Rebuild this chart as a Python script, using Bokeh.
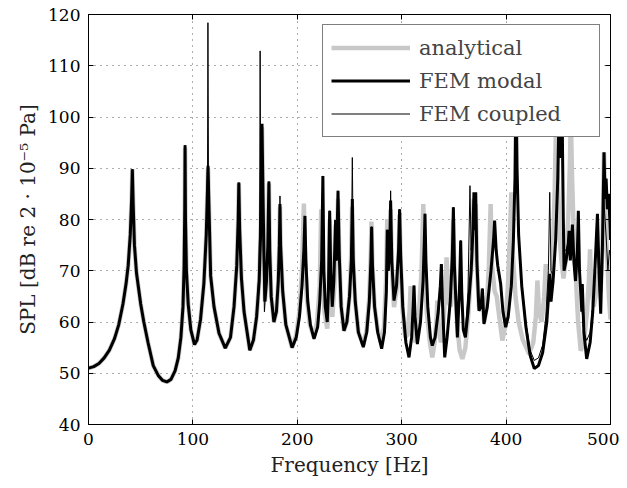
from bokeh.plotting import figure
from bokeh.models import Range1d, FixedTicker, LinearAxis, CustomJSTickFormatter, Legend, LegendItem
from bokeh.embed import file_html
from bokeh.resources import INLINE

# ---- data (frequency [Hz], SPL [dB]) ----
modal_pts = [
    (0, 51.0), (5, 51.3), (10, 51.9), (15, 53.0), (20, 54.5), (25, 56.8), (29, 59.5), (33, 63.5),
    (36, 67.5), (38, 71.0), (40, 77.0), (41.3, 84.0), (42, 89.8), (42.8, 83.0), (44, 75.0),
    (46, 69.5), (50, 63.5), (53, 60.0), (57, 56.0), (62, 51.5), (67, 49.5), (71, 48.6), (75, 48.3),
    (79, 48.8), (83, 50.5), (86, 53.0), (88.5, 57.0), (90.5, 63.0), (91.6, 71.0), (92.2, 82.0),
    (92.5, 94.5), (92.9, 80.0), (93.8, 70.0), (95.5, 63.5), (98, 58.5), (101.5, 55.6), (104, 56.5),
    (107.3, 60.5), (110.5, 67.5), (112.8, 77.0), (114.0, 86.0), (114.5, 90.5), (115.2, 84.0),
    (117, 69.0), (120.2, 63.0), (125, 57.8), (131, 54.9), (136, 57.0), (139.4, 63.0), (142, 71.0),
    (143.4, 80.0), (144, 87.2), (144.8, 78.0), (146.5, 68.5), (149, 62.0), (154.5, 54.5),
    (158, 56.5), (161, 61.0), (163.5, 68.0), (165.0, 78.0), (165.8, 92.0), (166.2, 98.7),
    (166.9, 88.0), (168.0, 74.0), (169.0, 64.0), (170.5, 68.0), (171.8, 75.0), (172.8, 87.4),
    (173.6, 74.0), (175.0, 65.0), (177.6, 60.0), (180.0, 62.0), (181.8, 68.0), (182.8, 75.0),
    (183.4, 83.0), (184.0, 75.0), (186.0, 66.0), (189.0, 59.5), (195.0, 55.0), (199, 57.0),
    (202, 61.0), (204.5, 67.0), (206.3, 74.0), (207.3, 80.7), (208.2, 72.0), (210, 64.0),
    (212.5, 59.5), (216, 56.7), (219.5, 59.0), (221.5, 64.0), (223.3, 72.0), (224.5, 88.5),
    (225.5, 70.0), (226.8, 63.0), (228.7, 60.0), (229.8, 66.0), (231, 81.7), (232, 70.0),
    (233.5, 63.0), (235, 68.0), (236.7, 79.9), (237.6, 72.0), (239, 85.6), (240.2, 73.0),
    (242, 63.0), (244.7, 58.3), (247.5, 60.0), (250, 65.0), (251.8, 72.0), (252.7, 84.0),
    (253.6, 72.0), (255.5, 64.0), (258.5, 58.0), (263.2, 55.1), (266.5, 58.0), (269, 64.0),
    (270.5, 72.0), (271.2, 78.6), (272, 71.0), (274, 63.0), (277, 58.0), (280.8, 54.8),
    (283.5, 58.0), (285.3, 66.0), (286.2, 78.0), (287.2, 70.0), (288.5, 74.0), (289.4, 83.7),
    (290.5, 72.0), (292.6, 64.2), (295, 67.0), (297, 74.0), (298, 82.0), (299, 73.0), (301, 63.0),
    (304, 56.0), (307, 53.1), (309.5, 57.0), (311.0, 63.0), (311.8, 67.1), (312.8, 61.0),
    (315, 55.7), (318, 60.0), (320.5, 68.0), (321.7, 76.0), (322.3, 81.1), (323.2, 72.0),
    (325, 63.0), (327.5, 57.0), (329.3, 55.4), (332, 57.0), (335, 62.0), (337, 67.0), (338, 71.3),
    (339, 64.0), (341.2, 53.1), (343.5, 57.0), (346.5, 64.0), (348.5, 73.0), (349.5, 82.4),
    (350.5, 71.0), (353.3, 57.0), (355.3, 66.0), (356.5, 75.9), (357.5, 66.0), (359, 58.5),
    (361, 57.0), (363.5, 62.0), (366.5, 70.0), (368.3, 78.0), (369.2, 85.3), (370.2, 78.0),
    (370.9, 85.3), (372, 72.0), (374, 62.2), (376, 63.0), (377.3, 66.5), (378.8, 59.6),
    (382, 63.0), (385.5, 70.0), (388, 76.0), (389, 79.8), (390.5, 74.0), (392, 71.0),
    (394.8, 67.4), (397, 62.0), (399.6, 59.0), (402, 61.0), (405, 67.0), (407, 76.0),
    (408.5, 88.0), (409.5, 108.0), (410.5, 90.0), (412, 77.0), (415, 67.0), (419, 59.0),
    (423, 53.5), (427, 50.9), (431, 51.5), (435, 54.0), (439, 60.0), (441, 66.0), (441.8, 69.4),
    (443, 64.0), (445, 68.0), (447.5, 76.0), (449.5, 88.0), (451, 104.0), (452.5, 92.0),
    (453.5, 104.0), (454.8, 80.0), (455.5, 70.0), (457.5, 72.0), (459.5, 75.0), (460.3, 77.8),
    (461.5, 72.0), (463.5, 79.0), (465, 71.6), (466.5, 68.0), (468.3, 74.0), (469.2, 81.7),
    (470.3, 70.0), (472.5, 62.0), (473, 67.4), (474.5, 58.0), (477.2, 52.8), (480.5, 56.0),
    (483, 62.0), (485, 70.0), (487.5, 81.1), (489, 70.0), (490.6, 61.6), (492.3, 75.0),
    (493.8, 93.1), (494.8, 84.0), (495.8, 88.0), (497, 82.0), (498.3, 85.0), (499.3, 80.0),
    (500, 76.0),
]

coupled_pts = [
    (0, 51.0), (5, 51.3), (10, 51.9), (15, 53.0), (20, 54.5), (25, 56.8), (29, 59.5), (33, 63.5),
    (36, 67.5), (38, 71.0), (40, 77.0), (41.3, 84.0), (42, 89.8), (42.8, 83.0), (44, 75.0),
    (46, 69.5), (50, 63.5), (53, 60.0), (57, 56.0), (62, 51.5), (67, 49.5), (71, 48.6), (75, 48.3),
    (79, 48.8), (83, 50.5), (86, 53.0), (88.5, 57.0), (90.5, 63.0), (91.6, 71.0), (92.2, 82.0),
    (92.5, 94.5), (92.9, 80.0), (93.8, 70.0), (95.5, 63.5), (98, 58.5), (101.5, 55.6), (104, 56.5),
    (107.3, 60.5), (110.5, 67.5), (112.8, 77.0), (114.0, 90.0), (114.4, 118.4), (114.9, 90.0),
    (115.5, 80.0), (117, 69.0), (120.2, 63.0), (125, 57.8), (131, 54.9), (136, 57.0), (139.4, 63.0),
    (142, 71.0), (143.4, 80.0), (144, 87.2), (144.8, 78.0), (146.5, 68.5), (149, 62.0),
    (154.5, 54.5), (158, 56.5), (161, 61.0), (163.3, 70.0), (164.0, 82.0), (164.4, 112.9),
    (164.9, 86.0), (165.6, 84.0), (166.2, 96.0), (167.0, 78.0), (168.5, 62.0), (170.5, 68.0),
    (171.8, 75.0), (172.8, 87.4), (173.6, 74.0), (175.0, 65.0), (177.6, 60.0), (180.0, 62.0),
    (181.8, 68.0), (182.8, 76.0), (183.4, 84.6), (184.0, 75.0), (186.0, 66.0), (189.0, 59.5),
    (195.0, 55.0), (199, 57.0), (202, 61.0), (204.5, 67.0), (206.3, 74.0), (207.3, 80.7),
    (208.2, 72.0), (210, 64.0), (212.5, 59.5), (216, 56.7), (219.5, 59.0), (221.5, 64.0),
    (223.3, 72.0), (224.5, 88.5), (225.5, 70.0), (226.8, 63.0), (228.7, 60.0), (229.8, 66.0),
    (231, 81.7), (232, 70.0), (233.5, 63.0), (235, 68.0), (236.7, 79.9), (237.6, 72.0),
    (239, 85.6), (240.2, 73.0), (242, 63.0), (244.7, 58.3), (247.5, 60.0), (250, 65.0),
    (251.8, 74.0), (252.7, 92.1), (253.6, 74.0), (255.5, 64.0), (258.5, 58.0), (263.2, 55.1),
    (266.5, 58.0), (269, 64.0), (270.5, 72.0), (271.2, 78.6), (272, 71.0), (274, 63.0), (277, 58.0),
    (280.8, 54.8), (283.5, 58.0), (285.3, 66.0), (286.2, 78.0), (287.2, 70.0), (288.5, 74.0),
    (289.4, 85.6), (290.5, 72.0), (292.6, 64.2), (295, 67.0), (297, 74.0), (298, 82.0), (299, 73.0),
    (301, 63.0), (304, 56.0), (307, 53.5), (309.5, 57.0), (311.0, 63.0), (311.8, 67.1),
    (312.8, 61.0), (315, 55.7), (318, 60.0), (320.5, 68.0), (321.7, 76.0), (322.3, 81.1),
    (323.2, 72.0), (325, 63.0), (327.5, 57.0), (329.3, 55.4), (332, 57.0), (335, 62.0), (337, 67.0),
    (338, 71.3), (339, 64.0), (341.2, 54.0), (343.5, 57.0), (346.5, 64.0), (348.5, 73.0),
    (349.5, 82.4), (350.5, 71.0), (353.3, 57.5), (355.3, 66.0), (356.5, 75.9), (357.5, 66.0),
    (359, 58.5), (361, 58.0), (363.5, 66.0), (365.4, 86.6), (366.5, 74.0), (368.3, 78.0),
    (369.2, 84.0), (370.2, 78.0), (370.9, 84.0), (372, 72.0), (374, 62.2), (376, 63.0),
    (377.3, 66.5), (378.8, 59.6), (382, 63.0), (385.5, 70.0), (388, 76.0), (389.5, 78.0),
    (390.5, 74.0), (392, 71.0), (394.8, 67.4), (397, 62.5), (399.6, 60.0), (402, 61.5),
    (405, 67.0), (407, 76.0), (408.5, 88.0), (409.5, 106.0), (410.5, 90.0), (412, 77.0),
    (415, 67.5), (419, 60.0), (423, 54.5), (427, 52.5), (431, 53.0), (435, 55.5), (438, 61.0),
    (440.5, 70.0), (441.8, 85.3), (443, 70.0), (445, 69.0), (447.5, 76.0), (449.5, 86.0),
    (451, 102.0), (452.5, 92.0), (453.5, 102.0), (454.8, 82.0), (455.5, 74.0), (457.5, 74.0),
    (459.5, 76.0), (461, 74.0), (463.0, 78.0), (465, 72.0), (466.5, 69.0), (468.3, 74.0),
    (469.2, 78.0), (470.3, 70.0), (472.5, 63.0), (474.5, 58.0), (477.2, 56.4), (480.5, 58.0),
    (483, 63.0), (485, 70.0), (486.8, 79.0), (488.5, 70.0), (490.6, 63.5), (492.3, 72.0),
    (493.5, 84.0), (494.8, 80.0), (496, 76.0), (497.5, 70.0), (499, 74.0), (500, 73.0),
]

analytical_pts = [
    (0, 51.0), (5, 51.3), (10, 51.9), (15, 53.0), (20, 54.5), (25, 56.8), (29, 59.5), (33, 63.5),
    (36, 67.5), (38, 71.0), (40, 77.0), (41.3, 84.0), (42, 89.8), (42.8, 83.0), (44, 75.0),
    (46, 69.5), (50, 63.5), (53, 60.0), (57, 56.0), (62, 51.5), (67, 49.5), (71, 48.6), (75, 48.3),
    (79, 48.8), (83, 50.5), (86, 53.0), (88.5, 57.0), (90.5, 63.0), (91.6, 71.0), (92.2, 82.0),
    (92.5, 94.0), (92.9, 80.0), (93.8, 70.0), (95.5, 63.5), (98, 58.5), (101.5, 55.6), (104, 56.5),
    (107.3, 60.5), (110.5, 67.5), (112.8, 77.0), (114.0, 86.0), (114.5, 90.0), (115.2, 84.0),
    (117, 69.0), (120.2, 63.0), (125, 57.8), (131, 54.9), (136, 57.0), (139.4, 63.0), (142, 71.0),
    (143.4, 80.0), (144, 87.0), (144.8, 78.0), (146.5, 68.5), (149, 62.0), (154.5, 54.5),
    (158, 56.5), (161, 61.0), (163.5, 68.0), (165.0, 78.0), (165.8, 92.0), (166.2, 98.0),
    (166.9, 88.0), (168.0, 74.0), (169.0, 64.0), (170.5, 68.0), (171.8, 75.0), (172.8, 87.0),
    (173.6, 74.0), (175.0, 65.0), (177.6, 60.0), (180.0, 62.0), (181.8, 68.0), (182.8, 75.0),
    (183.4, 82.5), (184.0, 75.0), (186.0, 66.0), (189.0, 59.5), (195.0, 55.0), (199, 57.5),
    (202, 62.0), (204.5, 70.0), (206.3, 83.1), (207.3, 74.0), (209, 65.0), (212, 59.5), (216, 57.0),
    (219, 60.0), (221.5, 67.0), (222.9, 82.0), (224, 70.0), (226, 62.0), (228.7, 58.7), (230, 64.0),
    (231, 80.0), (232, 68.0), (233.5, 61.0), (235.5, 67.0), (236.7, 79.0), (237.8, 72.0),
    (239, 84.0), (240.3, 72.0), (242, 63.0), (244.7, 58.3), (247.5, 60.0), (250, 65.0),
    (251.6, 73.0), (252.5, 82.5), (253.6, 72.0), (255.5, 64.0), (258.5, 58.0), (263.2, 55.5),
    (266.5, 58.5), (269, 65.0), (270.5, 74.0), (271, 79.6), (272, 71.0), (274, 63.0), (277, 58.5),
    (280, 56.0), (283, 59.0), (285, 68.0), (286.2, 80.1), (287.3, 72.0), (288.5, 74.0),
    (289.4, 82.0), (290.5, 71.0), (292.6, 62.9), (295, 66.0), (297, 73.0), (298, 81.0), (299, 72.0),
    (301, 62.0), (303.5, 57.0), (305.5, 57.5), (307.5, 62.0), (308.6, 67.0), (310, 60.0),
    (313, 56.0), (316, 60.0), (319, 70.0), (320.7, 83.0), (321.8, 72.0), (324, 62.0), (327, 56.0),
    (329.3, 53.1), (331.5, 56.0), (333.5, 61.0), (334.1, 64.2), (335.5, 59.0), (337.5, 56.0),
    (340, 60.0), (342, 67.0), (343, 72.6), (344.5, 64.0), (347, 63.0), (348.5, 72.0), (349.3, 80.0),
    (350.5, 69.0), (353, 60.0), (355.5, 54.5), (358.1, 52.8), (361, 55.0), (364, 62.0), (367, 72.0),
    (369, 84.0), (370.2, 77.0), (371, 83.0), (372, 71.0), (374, 63.0), (376, 62.5), (377.3, 65.0),
    (379, 60.0), (381.5, 63.0), (383.5, 71.0), (385.2, 83.0), (386.5, 71.0), (389, 66.0),
    (391, 65.0), (393.5, 61.0), (396.4, 56.4), (399, 59.0), (401.5, 66.0), (403.5, 76.0),
    (405, 85.3), (406.5, 73.0), (409, 65.0), (412, 60.0), (416, 56.5), (422, 53.8), (426, 56.0),
    (428.5, 61.0), (430, 68.1), (431.5, 62.0), (434, 60.0), (436.5, 65.0), (438, 71.3),
    (439.5, 65.0), (442, 64.0), (444.5, 72.0), (446.5, 85.0), (448, 100.0), (449.5, 88.0),
    (451.5, 76.0), (453, 72.0), (455, 68.5), (457, 72.0), (459.5, 80.0), (461, 90.0), (462, 100.0),
    (463.2, 88.0), (465, 76.0), (467, 68.0), (469, 60.0), (471.5, 54.4), (474.5, 56.0),
    (477.5, 62.0), (479.3, 68.0), (480.4, 74.2), (481.5, 67.0), (484, 63.0), (486.5, 66.0),
    (489, 70.0), (490.5, 66.0), (492.3, 75.0), (493.8, 93.1), (495, 82.0), (496.5, 74.0),
    (498.5, 65.0), (500, 60.5),
]

x_ticks = [0, 100, 200, 300, 400, 500]
y_ticks = [40, 50, 60, 70, 80, 90, 100, 110, 120]

FONT = "DejaVu Serif"

p = figure(width=619, height=480, output_backend="svg", toolbar_location=None,
           x_range=Range1d(0, 500), y_range=Range1d(40, 120),
           min_border_left=88, min_border_right=9, min_border_top=14, min_border_bottom=56)
p.background_fill_color = "white"
p.border_fill_color = "white"
p.outline_line_color = "black"
p.outline_line_width = 1

def split(pts):
    return [a for a, b in pts], [b for a, b in pts]

af, adb = split(analytical_pts)
mf, mdb = split(modal_pts)
cf, cdb = split(coupled_pts)

r_a = p.line(af, adb, line_color="#c8c8c8", line_width=4.5)
r_m = p.line(mf, mdb, line_color="black", line_width=3)
r_c = p.line(cf, cdb, line_color="black", line_width=1)

for ax in (p.xaxis[0], p.yaxis[0]):
    ax.major_tick_in = 5
    ax.major_tick_out = 0
    ax.minor_tick_line_color = None
    ax.axis_line_color = "black"
    ax.major_label_text_font = FONT
    ax.major_label_text_font_size = "17px"
    ax.major_label_text_color = "black"
    ax.axis_label_text_font = FONT
    ax.axis_label_text_font_size = "20px"
    ax.axis_label_text_font_style = "normal"
    ax.axis_label_text_color = "#222222"

p.xaxis.ticker = FixedTicker(ticks=x_ticks)
p.yaxis.ticker = FixedTicker(ticks=y_ticks)
p.xaxis.axis_label = "Frequency [Hz]"
p.yaxis.axis_label = "SPL [dB re 2 · 10⁻⁵ Pa]"
p.xaxis.major_label_standoff = 8
p.yaxis.major_label_standoff = 8

blank = CustomJSTickFormatter(code="return '';")
top = LinearAxis(ticker=FixedTicker(ticks=x_ticks), formatter=blank, major_tick_in=5,
                 major_tick_out=0, minor_tick_line_color=None, major_label_standoff=0)
right = LinearAxis(ticker=FixedTicker(ticks=y_ticks), formatter=blank, major_tick_in=5,
                   major_tick_out=0, minor_tick_line_color=None, major_label_standoff=0)
p.add_layout(top, "above")
p.add_layout(right, "right")

for g in (p.xgrid[0], p.ygrid[0]):
    g.grid_line_color = "#333333"
    g.grid_line_alpha = 0.8
    g.grid_line_dash = "1 5"
p.xgrid.ticker = FixedTicker(ticks=x_ticks)
p.ygrid.ticker = FixedTicker(ticks=y_ticks)

legend = Legend(items=[LegendItem(label="analytical", renderers=[r_a]),
                       LegendItem(label="FEM modal", renderers=[r_m]),
                       LegendItem(label="FEM coupled", renderers=[r_c])],
                location="top_right")
legend.label_text_font = FONT
legend.label_text_font_size = "21px"
legend.glyph_width = 79
legend.glyph_height = 29
legend.label_height = 29
legend.label_width = 172
legend.spacing = 4
legend.padding = 8
legend.margin = 10
legend.label_standoff = 9
legend.border_line_color = "black"
legend.border_line_width = 1
legend.background_fill_alpha = 1.0
p.add_layout(legend)

open("out.html", "w").write(file_html(p, INLINE))
